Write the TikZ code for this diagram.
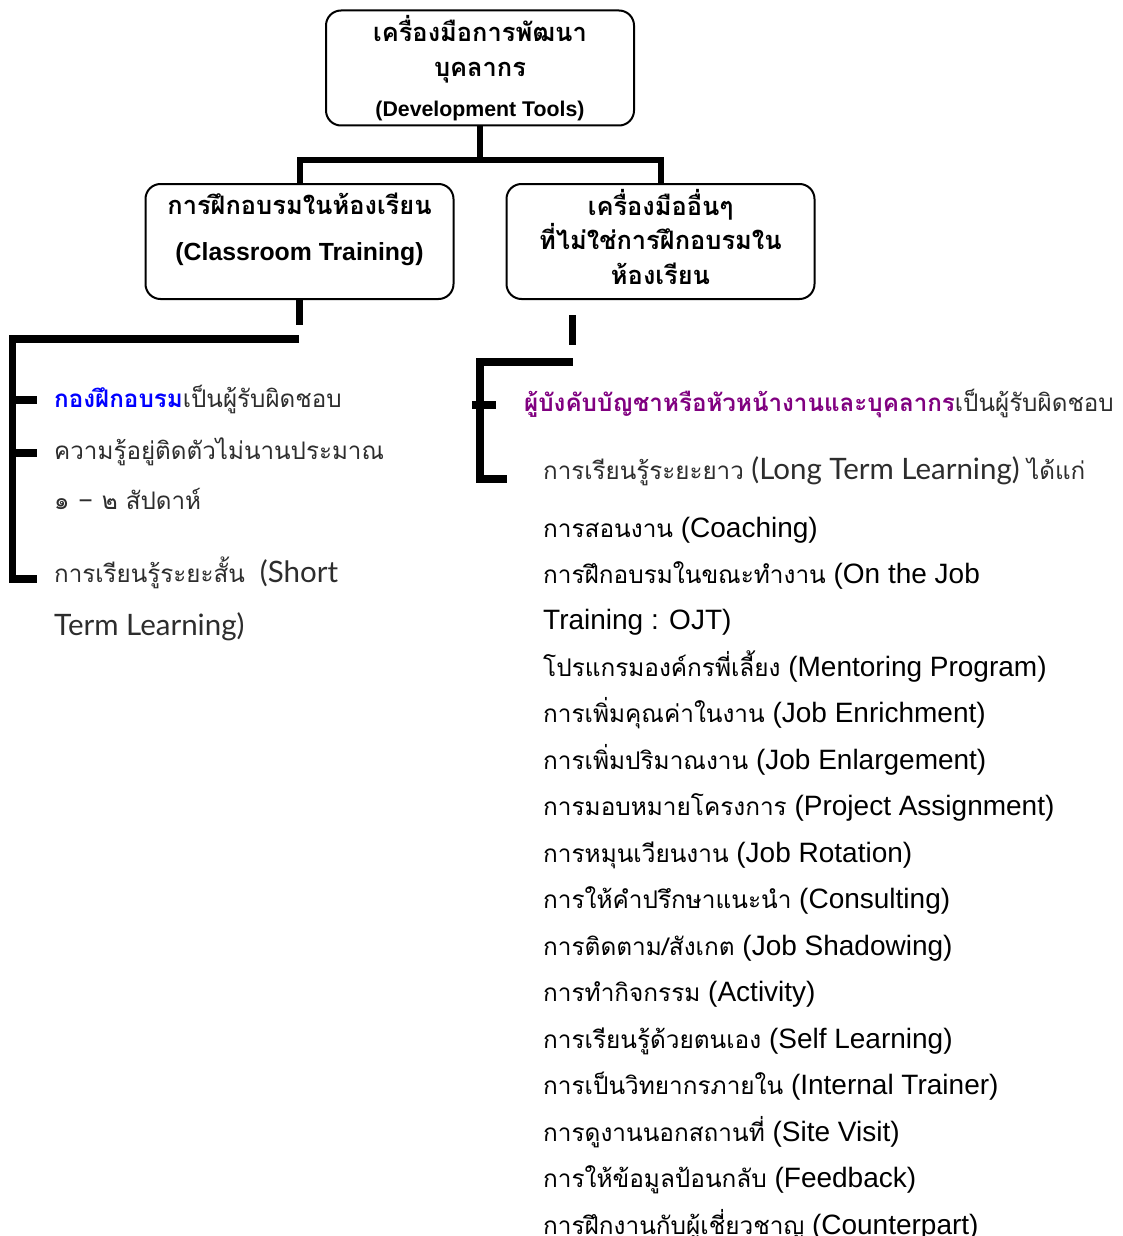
\documentclass[tikz,border=0pt]{standalone}
\usepackage{fontspec}
\setmainfont{Liberation Sans}
\newfontfamily\thaifont[Script=Thai,Scale=0.82]{Loma}
\newfontfamily\thaiwide[Script=Thai,Scale=0.87]{Loma}
\newfontfamily\lightfont{Lato}
\usetikzlibrary{positioning}
\definecolor{hrpurple}{RGB}{128,0,128}
\definecolor{textgray}{RGB}{45,45,45}
\newcommand\tf[1]{{\thaifont #1}}
\newcommand\tw[1]{{\thaiwide #1}}

\tikzset{
  box/.style={draw, line width=2pt, rounded corners=15pt, minimum width=308pt,
    minimum height=115pt, align=center, inner sep=0pt},
  trunk/.style={line width=6pt},
  brace/.style={line width=7.5pt},
  listitem/.style={anchor=base west, inner sep=0pt, font=\fontsize{28}{34}\selectfont},
  sidenote/.style={anchor=base west, inner sep=0pt, text=textgray,
    font=\lightfont\fontsize{29.5}{34}\selectfont},
}

\begin{document}
\begin{tikzpicture}[x=1pt,y=-1pt]
\useasboundingbox (0,0) rectangle (1122,1236);

% boxes
\node[box, font=\bfseries\fontsize{31}{35}\selectfont] (tools) at (480,68)
  {\tf{เครื่องมือการพัฒนา}\\\tf{บุคลากร}\\[5pt]{\fontsize{21.3}{25}\selectfont (Development Tools)}};
\node[box, font=\bfseries\fontsize{31}{46}\selectfont] (classroom) at (299.5,241.5)
  {\tf{การฝึกอบรมในห้องเรียน}\\{\fontsize{24.8}{28}\selectfont (Classroom Training)}\\[-16pt]\mbox{}};
\node[box, font=\bfseries\fontsize{31}{34.5}\selectfont] (others) at (660.5,241.5)
  {\tf{เครื่องมืออื่นๆ}\\\tf{ที่ไม่ใช่การฝึกอบรมใน}\\\tf{ห้องเรียน}\\[-24.5pt]\mbox{}};

% tree lines
\coordinate (split) at (480,160);
\draw[trunk] (tools.south) -- (split);
\draw[trunk] (classroom.north) |- (split) -| (others.north);

% left side
\coordinate (lstub) at (299.5,325);
\coordinate (ltop) at (299,339);
\coordinate (lcorner) at (12.5,579);
\coordinate (lend) at (37,579);
\draw[brace] (classroom.south) -- (lstub);
\draw[brace] (ltop) -| (lcorner) -- (lend);
\foreach \ty in {400,453}
  \draw[brace] (12.5,\ty) -- (37,\ty);

\node[sidenote] (cls1) at (54,407) {\tf{{\color{blue}\bfseries กองฝึกอบรม}เป็นผู้รับผิดชอบ}};
\node[sidenote] (cls2) at (54,459) {\tf{ความรู้อยู่ติดตัวไม่นานประมาณ}};
\node[sidenote] (cls3) at (54,509) {\tf{๑} – \tf{๒ สัปดาห์}};
\node[sidenote] (cls4) at (54,582) {\tf{การเรียนรู้ระยะสั้น}\ \ (Short};
\node[sidenote] (cls5) at (54,635) {Term Learning)};

% right side
\coordinate (rstub) at (572.5,315);
\coordinate (rstubend) at (572.5,345);
\coordinate (rtop) at (572.5,362);
\coordinate (rcorner) at (480,479);
\coordinate (rend) at (507,479);
\draw[brace] (rstub) -- (rstubend);
\draw[brace] (rtop) -| (rcorner) -- (rend);
\draw[brace] (472,405) -- (496,405);

\node[sidenote] (oth1) at (524,411) {\tf{{\color{hrpurple}\bfseries ผู้บังคับบัญชาหรือหัวหน้างานและบุคลากร}เป็นผู้รับผิดชอบ}};
\node[sidenote] (oth2) at (543,479) {\tf{การเรียนรู้ระยะยาว} (Long Term Learning) \tf{ได้แก่}};

\foreach \itm [count=\i] in {
  \tw{การสอนงาน} (Coaching),
  \tw{การฝึกอบรมในขณะทำงาน} (On the Job,
  Training : OJT),
  \tw{โปรแกรมองค์กรพี่เลี้ยง} (Mentoring Program),
  \tw{การเพิ่มคุณค่าในงาน} (Job Enrichment),
  \tw{การเพิ่มปริมาณงาน} (Job Enlargement),
  \tw{การมอบหมายโครงการ} (Project Assignment),
  \tw{การหมุนเวียนงาน} (Job Rotation),
  \tw{การให้คำปรึกษาแนะนำ} (Consulting),
  \tw{การติดตาม/สังเกต} (Job Shadowing),
  \tw{การทำกิจกรรม} (Activity),
  \tw{การเรียนรู้ด้วยตนเอง} (Self Learning),
  \tw{การเป็นวิทยากรภายใน} (Internal Trainer),
  \tw{การดูงานนอกสถานที่} (Site Visit),
  \tw{การให้ข้อมูลป้อนกลับ} (Feedback),
  \tw{การฝึกงานกับผู้เชี่ยวชาญ} (Counterpart)}
  \node[listitem] (tool\i) at (543,{537+46.47*(\i-1)}) {\itm};

\end{tikzpicture}
\end{document}
